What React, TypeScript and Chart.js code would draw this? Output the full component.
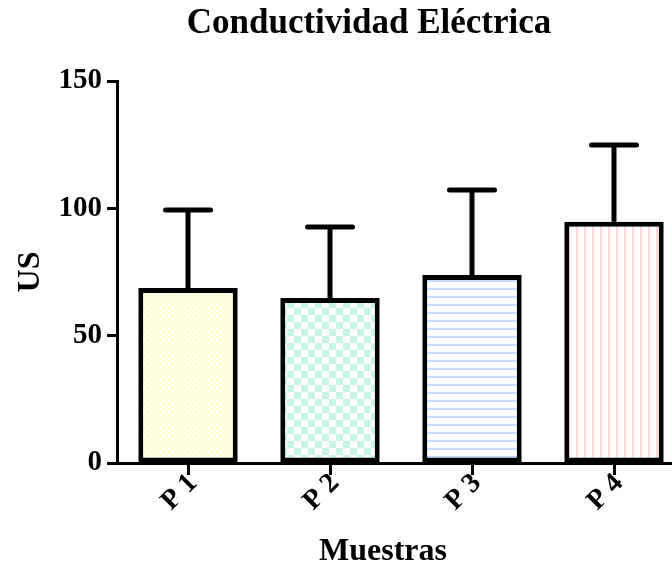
import React, { useEffect, useRef } from 'react';
import { Chart, registerables } from 'chart.js';

Chart.register(...registerables);

const categories = ['P 1', 'P 2', 'P 3', 'P 4'];
const means = [68.7, 64.8, 73.8, 94.7];
const errors = [30.6, 27.9, 33.4, 30.2];
const yMin = 0;
const yMax = 150;
const yStep = 50;

const TITLE = 'Conductividad Eléctrica';
const Y_TITLE = 'US';
const X_TITLE = 'Muestras';

const FONT = '"Liberation Serif", "Times New Roman", serif';

function makePattern(kind: string): CanvasPattern | string {
  const c = document.createElement('canvas');
  const ctx = c.getContext('2d')!;
  if (kind === 'checkSmall') {
    c.width = 6; c.height = 6;
    ctx.fillStyle = '#FFFFF2'; ctx.fillRect(0, 0, 6, 6);
    ctx.fillStyle = '#FFFFD0'; ctx.fillRect(0, 0, 3, 3); ctx.fillRect(3, 3, 3, 3);
  } else if (kind === 'checkLarge') {
    c.width = 14; c.height = 14;
    ctx.fillStyle = '#FFFFFF'; ctx.fillRect(0, 0, 14, 14);
    ctx.fillStyle = '#C9F5E4'; ctx.fillRect(0, 0, 7, 7); ctx.fillRect(7, 7, 7, 7);
  } else if (kind === 'hlines') {
    c.width = 8; c.height = 8;
    ctx.fillStyle = '#FFFFFF'; ctx.fillRect(0, 0, 8, 8);
    ctx.fillStyle = '#C6DAF6'; ctx.fillRect(0, 0, 8, 2);
  } else {
    c.width = 8; c.height = 8;
    ctx.fillStyle = '#FFFFFF'; ctx.fillRect(0, 0, 8, 8);
    ctx.fillStyle = '#FFD6D8'; ctx.fillRect(0, 0, 2, 8);
  }
  const p = ctx.createPattern(c, 'repeat');
  return p || '#fff';
}

const patternKinds = ['checkSmall', 'checkLarge', 'hlines', 'vlines'];

const errorBarPlugin = {
  id: 'errorBars',
  afterDatasetsDraw(chart: any) {
    const meta = chart.getDatasetMeta(0);
    const ys = chart.scales.y;
    const ctx = chart.ctx;
    ctx.save();
    ctx.strokeStyle = '#000';
    ctx.lineWidth = 5;
    meta.data.forEach((bar: any, i: number) => {
      const base = ys.getPixelForValue(means[i]);
      const top = ys.getPixelForValue(means[i] + errors[i]);
      ctx.lineCap = 'butt';
      ctx.beginPath();
      ctx.moveTo(bar.x, base);
      ctx.lineTo(bar.x, top);
      ctx.stroke();
      ctx.lineCap = 'round';
      ctx.beginPath();
      ctx.moveTo(bar.x - 22.5, top);
      ctx.lineTo(bar.x + 22.5, top);
      ctx.stroke();
    });
    ctx.restore();
  },
};

const textPlugin = {
  id: 'texts',
  afterDraw(chart: any) {
    const ctx = chart.ctx;
    ctx.save();
    ctx.fillStyle = '#000';
    ctx.textAlign = 'center';
    ctx.textBaseline = 'alphabetic';
    ctx.font = `bold 35px ${FONT}`;
    ctx.fillText(TITLE, 369, 33);
    ctx.font = `bold 32px ${FONT}`;
    ctx.fillText(X_TITLE, 383, 560);
    ctx.restore();
  },
};

export default function App() {
  const ref = useRef<HTMLCanvasElement | null>(null);

  useEffect(() => {
    if (!ref.current) return;
    const chart = new Chart(ref.current, {
      type: 'bar',
      data: {
        labels: categories,
        datasets: [
          {
            data: means,
            backgroundColor: patternKinds.map((k) => makePattern(k)) as any,
            borderColor: '#000',
            borderWidth: 5,
            borderSkipped: false,
            barPercentage: 0.7,
            categoryPercentage: 1,
          },
        ],
      },
      options: {
        responsive: false,
        animation: false,
        devicePixelRatio: 1,
        layout: { padding: { top: 81, left: 0, right: 53, bottom: 0 } },
        plugins: {
          legend: { display: false },
          tooltip: { enabled: false },
          title: { display: false },
        },
        scales: {
          x: {
            afterFit: (s: any) => { s.height = 108; },
            grid: {
              offset: false,
              drawOnChartArea: false,
              drawTicks: true,
              tickLength: 12,
              tickWidth: 3,
              tickColor: '#000',
            },
            border: { display: true, color: '#000', width: 3 },
            ticks: {
              color: '#000',
              font: { family: FONT, size: 28, weight: 'bold' },
              minRotation: 45,
              maxRotation: 45,
              labelOffset: 5,
              padding: -8,
            },
          },
          y: {
            min: yMin,
            max: yMax,
            afterFit: (s: any) => { s.width = 117; },
            grid: {
              drawOnChartArea: false,
              drawTicks: true,
              tickLength: 10,
              tickWidth: 3,
              tickColor: '#000',
            },
            border: { display: true, color: '#000', width: 3 },
            ticks: {
              stepSize: yStep,
              color: '#000',
              font: { family: FONT, size: 29, weight: 'bold' },
              padding: 5,
            },
            title: {
              display: true,
              text: Y_TITLE,
              color: '#000',
              font: { family: FONT, size: 32, weight: 'bold', lineHeight: 1 },
              padding: { top: 15, bottom: 0 },
            },
          },
        },
      },
      plugins: [errorBarPlugin, textPlugin],
    });
    return () => chart.destroy();
  }, []);

  return (
    <div
      style={{
        position: 'fixed',
        left: 0,
        top: 0,
        width: 672,
        height: 571,
        overflow: 'hidden',
        background: '#fff',
      }}
    >
      <canvas ref={ref} width={738} height={571} style={{ display: 'block' }} />
    </div>
  );
}
